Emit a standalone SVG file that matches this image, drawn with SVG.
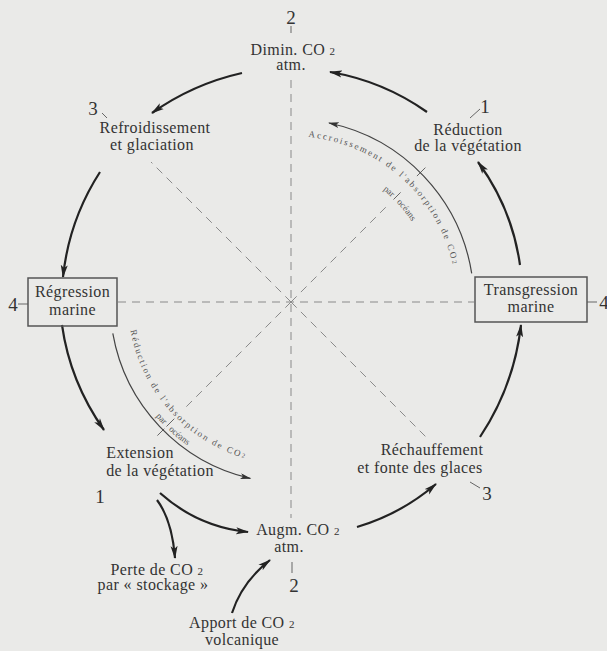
<svg xmlns="http://www.w3.org/2000/svg" width="607" height="651" viewBox="0 0 607 651">
<style>
.t{font-family:"Liberation Serif","DejaVu Serif",serif;font-size:16px;fill:#333;text-anchor:middle;letter-spacing:0.4px}
.n{font-family:"Liberation Serif","DejaVu Serif",serif;font-size:19px;fill:#333;text-anchor:middle}
.s{font-size:11px}
.a{font-family:"Liberation Serif","DejaVu Serif",serif;font-size:9px;fill:#555}
.box{fill:none;stroke:#555;stroke-width:1.5}
.arr{fill:none;stroke:#222;stroke-width:2.2;marker-end:url(#ah)}
.iarr{fill:none;stroke:#444;stroke-width:1.2;marker-end:url(#ahs)}
.dash{fill:none;stroke:#8a8a8a;stroke-width:1;stroke-dasharray:8 6}
.tick{fill:none;stroke:#666;stroke-width:1}
</style>
<defs>
<marker id="ah" markerWidth="14" markerHeight="8" refX="12" refY="4" orient="auto" markerUnits="userSpaceOnUse"><path d="M0,0.5 L13,4 L0,7.5 L3,4 Z" fill="#222"/></marker>
<marker id="ahs" markerWidth="12" markerHeight="6" refX="10" refY="3" orient="auto" markerUnits="userSpaceOnUse"><path d="M0,0 L11,3 L0,6 L2.5,3 Z" fill="#333"/></marker>
<path id="pUR" d="M308.4,136.9 A166,166 0 0 1 455.4,278.9"/>
<path id="pUR2" d="M363.5,176.4 A145,145 0 0 1 427.3,251.4"/>
<path id="pLL" d="M130.5,330.3 A163,163 0 0 0 262.7,462.5"/>
<path id="pLL2" d="M137.7,390.5 A177,177 0 0 0 230.5,468.3"/>
</defs>
<rect width="607" height="651" fill="#eaeae8"/>

<g id="axes">
<line class="dash" x1="291" y1="80" x2="291" y2="518"/>
<line class="dash" x1="118" y1="302" x2="474" y2="302"/>
<line class="dash" x1="291" y1="302" x2="151" y2="162"/>
<line class="dash" x1="291" y1="302" x2="390" y2="203"/>
<line class="dash" x1="291" y1="302" x2="186" y2="407"/>
<line class="dash" x1="291" y1="302" x2="428" y2="439"/>
<line class="tick" x1="291" y1="26" x2="291" y2="33"/>
<line class="tick" x1="102" y1="113" x2="107" y2="118"/>
<line class="tick" x1="470" y1="118" x2="480" y2="109"/>
<line class="tick" x1="18" y1="304" x2="28" y2="304"/>
<line class="tick" x1="587" y1="302" x2="597" y2="302"/>
<line class="tick" x1="470" y1="482" x2="480" y2="488"/>
<line class="tick" x1="292" y1="562" x2="292" y2="573"/>
<line class="tick" x1="393.5" y1="199.5" x2="400.6" y2="192.4"/>
<line class="tick" x1="416.9" y1="176.1" x2="425.4" y2="167.6"/>
<line class="tick" x1="174.3" y1="418.7" x2="166.5" y2="426.5"/>
<line class="tick" x1="164.3" y1="428.7" x2="157.4" y2="435.6"/>
</g>

<g id="connectors">
<path class="arr" d="M242,73 Q193,84 152,113"/>
<path class="arr" d="M100,172 Q69,220 63,277"/>
<path class="arr" d="M62,325 Q70,382 104,430"/>
<path class="arr" d="M160,493 Q198,527 248,532"/>
<path class="arr" d="M357,527 Q401,514 436,484"/>
<path class="arr" d="M480,437 Q514,386 521,325"/>
<path class="arr" d="M520,265 Q512,208 478,162"/>
<path class="arr" d="M427,112 Q383,81 330,72"/>
<path class="arr" d="M157,500 Q172,520 175,558"/>
<path class="arr" d="M232,613 Q242,582 270,560"/>
<path class="iarr" d="M471.7,273.4 A183,183 0 0 0 329,123"/>
<path class="iarr" d="M112.8,333.4 A181,181 0 0 0 250.3,478.4"/>
</g>

<g id="arc-label-up">
<text class="a"><textPath href="#pUR" textLength="205" lengthAdjust="spacing">Accroissement de l'absorption de CO<tspan font-size="6.5">2</tspan></textPath></text>
<text class="a" text-anchor="end"><textPath href="#pUR2" startOffset="35">par</textPath></text>
<text class="a"><textPath href="#pUR2" startOffset="42">océans</textPath></text>
</g>
<g id="arc-label-down">
<text class="a"><textPath href="#pLL" textLength="180" lengthAdjust="spacing">Réduction de l'absorption de CO<tspan font-size="6.5">2</tspan></textPath></text>
<text class="a" text-anchor="end"><textPath href="#pLL2" startOffset="43">par</textPath></text>
<text class="a"><textPath href="#pLL2" startOffset="50">océans</textPath></text>
</g>

<g id="node-dimin">
<text class="n" x="291" y="24">2</text>
<text class="t" x="293" y="55">Dimin. CO <tspan class="s">2</tspan></text>
<text class="t" x="291" y="70">atm.</text>
</g>
<g id="node-refroid">
<text class="n" x="93" y="115">3</text>
<text class="t" x="155" y="133">Refroidissement</text>
<text class="t" x="152" y="150">et glaciation</text>
</g>
<g id="node-reduction">
<text class="n" x="485" y="113">1</text>
<text class="t" x="468" y="135">Réduction</text>
<text class="t" x="468" y="151">de la végétation</text>
</g>
<g id="node-regression">
<rect class="box" x="28" y="278" width="89" height="48"/>
<text class="t" x="72.5" y="297">Régression</text>
<text class="t" x="72.5" y="315">marine</text>
<text class="n" x="13" y="311">4</text>
</g>
<g id="node-transgression">
<rect class="box" x="475" y="277" width="112" height="45"/>
<text class="t" x="531" y="295">Transgression</text>
<text class="t" x="531" y="312">marine</text>
<text class="n" x="604" y="309">4</text>
</g>
<g id="node-rechauffement">
<text class="t" x="432" y="455">Réchauffement</text>
<text class="t" x="420" y="473">et fonte des glaces</text>
<text class="n" x="487" y="500">3</text>
</g>
<g id="node-extension">
<text class="t" x="140" y="458">Extension</text>
<text class="t" x="160" y="476">de la végétation</text>
<text class="n" x="100" y="503">1</text>
</g>
<g id="node-augm">
<text class="t" x="298" y="535">Augm. CO <tspan class="s">2</tspan></text>
<text class="t" x="289" y="552">atm.</text>
<text class="n" x="294" y="592">2</text>
</g>
<g id="node-perte">
<text class="t" x="157" y="575">Perte de CO <tspan class="s">2</tspan></text>
<text class="t" x="153" y="590">par « stockage »</text>
</g>
<g id="node-apport">
<text class="t" x="242" y="628">Apport de CO <tspan class="s">2</tspan></text>
<text class="t" x="242" y="645">volcanique</text>
</g>
</svg>
